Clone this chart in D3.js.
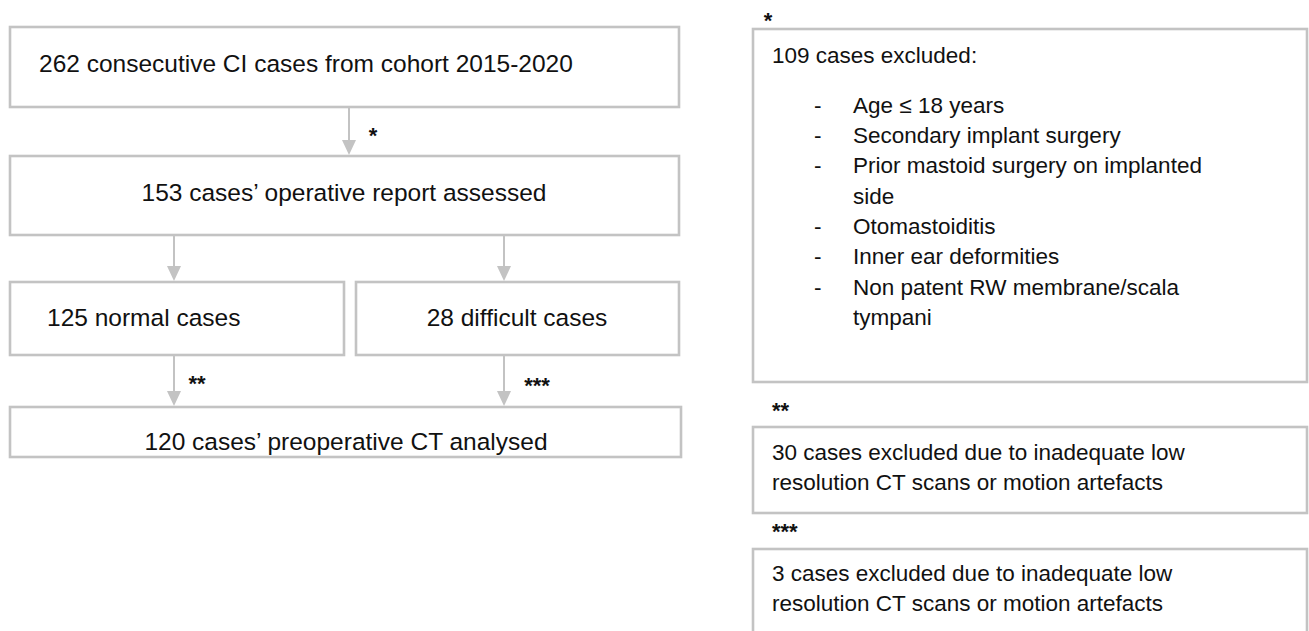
<!DOCTYPE html>
<html>
<head>
<meta charset="utf-8">
<script src="https://cdn.jsdelivr.net/npm/d3@7"></script>
<style>
  html, body { margin: 0; padding: 0; background: #fff; }
  svg { display: block; }
  text { font-family: "Liberation Sans", Arial, Helvetica, sans-serif; fill: #111; }
</style>
</head>
<body>
<svg id="chart" width="1309" height="631"></svg>
<script>
// ---- data ----
const flowLabels = [
  "262 consecutive CI cases from cohort 2015-2020",
  "153 cases\u2019 operative report assessed",
  "125 normal cases",
  "28 difficult cases",
  "120 cases\u2019 preoperative CT analysed"
];
const arrowMarks = ["*", "", "", "**", "***"];
const exclusionMarks = ["*", "**", "***"];
const exclusionTitle = "109 cases excluded:";
const exclusionReasons = [
  ["Age \u2264 18 years"],
  ["Secondary implant surgery"],
  ["Prior mastoid surgery on implanted", "side"],
  ["Otomastoiditis"],
  ["Inner ear deformities"],
  ["Non patent RW membrane/scala", "tympani"]
];
const ctExclusions = [
  ["30 cases excluded due to inadequate low", "resolution CT scans or motion artefacts"],
  ["3 cases excluded due to inadequate low", "resolution CT scans or motion artefacts"]
];

// ---- drawing ----
const svg = d3.select("#chart");
const GRAY = "#c3c3c3";
const LEFT_FS = 24.5, RIGHT_FS = 22.5;

// left flow layout
const boxes = [
  {x0: 10, x1: 679, y0: 27, y1: 107, label: flowLabels[0], align: "start", tx: 39, ty: 63},
  {x0: 10, x1: 679, y0: 156, y1: 235, label: flowLabels[1], align: "middle", tx: 344, ty: 192},
  {x0: 10, x1: 344, y0: 282, y1: 355, label: flowLabels[2], align: "start", tx: 47, ty: 317},
  {x0: 356, x1: 679, y0: 282, y1: 355, label: flowLabels[3], align: "middle", tx: 517, ty: 317},
  {x0: 10, x1: 681, y0: 407, y1: 457, label: flowLabels[4], align: "middle", tx: 346, ty: 441}
];
const arrows = [
  {x: 349, y0: 107, y1: 156, mark: arrowMarks[0], mx: 373, my: 130},
  {x: 174, y0: 235, y1: 282, mark: arrowMarks[1]},
  {x: 504, y0: 235, y1: 282, mark: arrowMarks[2]},
  {x: 174, y0: 355, y1: 407, mark: arrowMarks[3], mx: 197, my: 378},
  {x: 504, y0: 355, y1: 407, mark: arrowMarks[4], mx: 537, my: 380}
];

const g = svg.append("g");
g.selectAll("rect.box").data(boxes).join("rect")
  .attr("class", "box")
  .attr("x", d => d.x0).attr("y", d => d.y0)
  .attr("width", d => d.x1 - d.x0).attr("height", d => d.y1 - d.y0)
  .attr("fill", "#fff").attr("stroke", GRAY).attr("stroke-width", 2.6);

g.selectAll("text.lbl").data(boxes).join("text")
  .attr("class", "lbl")
  .attr("x", d => d.tx).attr("y", d => d.ty)
  .attr("dy", "0.35em")
  .attr("text-anchor", d => d.align)
  .style("font-size", LEFT_FS + "px")
  .text(d => d.label);

const headH = 15, headW = 7;
const ag = g.selectAll("g.arrow").data(arrows).join("g").attr("class", "arrow");
ag.append("line")
  .attr("x1", d => d.x).attr("x2", d => d.x)
  .attr("y1", d => d.y0 + 1).attr("y2", d => d.y1 - headH)
  .attr("stroke", GRAY).attr("stroke-width", 2);
ag.append("path")
  .attr("d", d => `M${d.x - headW},${d.y1 - headH - 1}L${d.x + headW},${d.y1 - headH - 1}L${d.x},${d.y1 - 1}Z`)
  .attr("fill", GRAY);
ag.filter(d => d.mark).append("text")
  .attr("x", d => d.mx).attr("y", d => d.my)
  .attr("dy", "0.6em")
  .attr("text-anchor", "middle")
  .style("font-size", "22px").style("font-weight", "bold")
  .text(d => d.mark);

// right side
const R = {x0: 753, x1: 1307};
const rg = svg.append("g");
// box A
rg.append("text").attr("x", 768).attr("y", 15).attr("dy", "0.6em")
  .attr("text-anchor", "middle")
  .style("font-size", "22px").style("font-weight", "bold").text(exclusionMarks[0]);
rg.append("rect").attr("x", R.x0).attr("y", 29).attr("width", R.x1 - R.x0).attr("height", 382 - 29)
  .attr("fill", "#fff").attr("stroke", GRAY).attr("stroke-width", 2.6);
rg.append("text").attr("x", 772).attr("y", 55).attr("dy", "0.35em")
  .style("font-size", RIGHT_FS + "px").text(exclusionTitle);

// flatten reasons into lines
const lineH = 30.3;
let lines = [];
exclusionReasons.forEach(r => r.forEach((t, i) => lines.push({t, bullet: i === 0})));
const yLine = d3.scaleLinear().domain([0, 1]).range([105, 105 + lineH]);
rg.selectAll("text.reason").data(lines).join("text")
  .attr("class", "reason")
  .attr("x", 853).attr("y", (d, i) => yLine(i)).attr("dy", "0.35em")
  .style("font-size", RIGHT_FS + "px").text(d => d.t);
rg.selectAll("text.bul").data(lines.filter(d => d.bullet)).join("text")
  .attr("class", "bul")
  .attr("x", 814).attr("y", d => yLine(lines.indexOf(d))).attr("dy", "0.35em")
  .style("font-size", RIGHT_FS + "px").text("-");

// CT exclusion boxes
const ctBoxes = [
  {mark: exclusionMarks[1], my: 412, y0: 427, y1: 513, lines: ctExclusions[0], ly: 452},
  {mark: exclusionMarks[2], my: 533, y0: 549, y1: 660, lines: ctExclusions[1], ly: 573}
];
ctBoxes.forEach(b => {
  rg.append("text").attr("x", 772).attr("y", b.my - 7).attr("dy", "0.6em")
    .style("font-size", "22px").style("font-weight", "bold").text(b.mark);
  rg.append("rect").attr("x", R.x0).attr("y", b.y0).attr("width", R.x1 - R.x0).attr("height", b.y1 - b.y0)
    .attr("fill", "#fff").attr("stroke", GRAY).attr("stroke-width", 2.6);
  rg.selectAll(null).data(b.lines).join("text")
    .attr("x", 772).attr("y", (d, i) => b.ly + i * 30.5).attr("dy", "0.35em")
    .style("font-size", RIGHT_FS + "px").text(d => d);
});
</script>
</body>
</html>
